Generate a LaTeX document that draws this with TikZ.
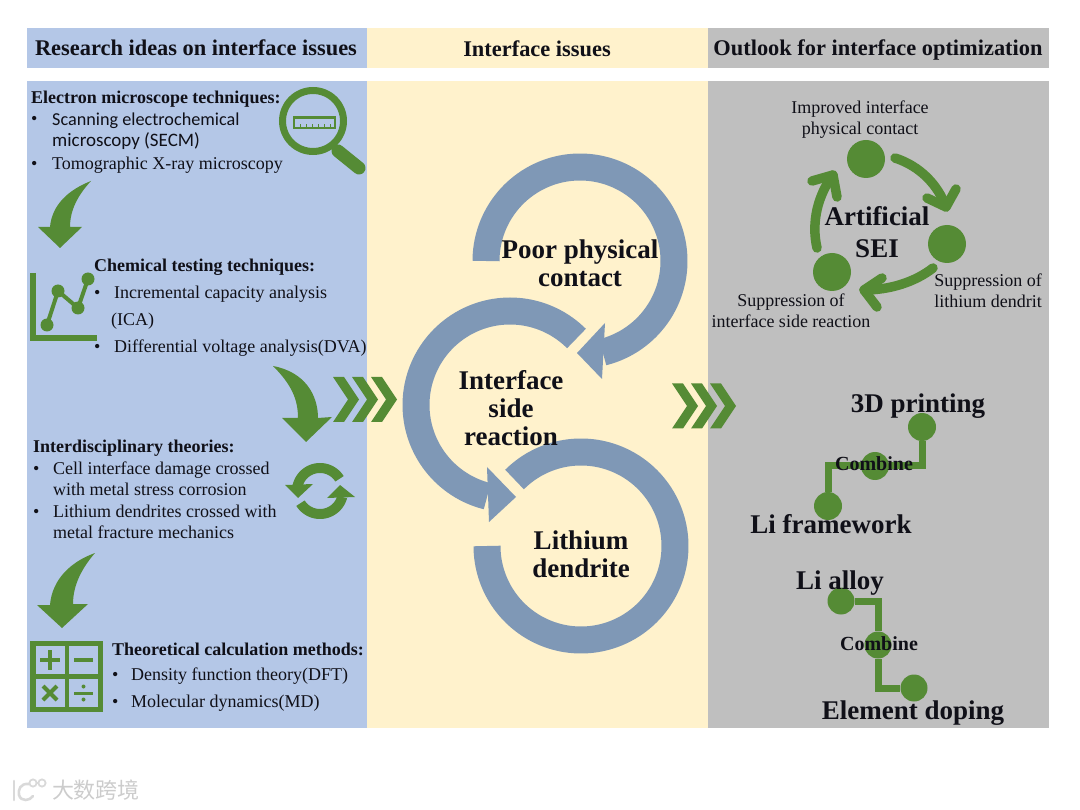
\documentclass[tikz,border=0pt]{standalone}
\usepackage{fontspec}
\setmainfont{Liberation Serif}
\newfontfamily\calfont{Carlito}
\newfontfamily\cjkfont{Noto Sans CJK SC}
\definecolor{panelblue}{HTML}{B4C7E7}
\definecolor{panelyellow}{HTML}{FFF2CC}
\definecolor{panelgray}{HTML}{BFBFBF}
\definecolor{ringblue}{HTML}{7F98B6}
\definecolor{leaf}{HTML}{558B35}
\definecolor{ink}{HTML}{101018}
\newcommand{\fsz}[1]{\fontsize{#1}{#1}\selectfont}
\newcommand{\ringarc}[6]{\draw[#6] plot[domain=#4:#5,samples=90,smooth] ({#1+#3*cos(\x)},{#2-#3*sin(\x)});}
\tikzset{
  head/.style={font=\fsz{22.4}\bfseries,text=ink,inner sep=0pt,anchor=base,yshift=-8pt},
  subhead/.style={font=\fsz{18}\bfseries,text=ink,inner sep=0pt,anchor=base west,yshift=-5.5pt},
  body/.style={font=\fsz{18},text=ink,inner sep=0pt,anchor=base west,yshift=-5.5pt},
  bodysans/.style={font=\calfont\fsz{18.2},text=ink,inner sep=0pt,anchor=base west,yshift=-5.5pt},
  bigt/.style={font=\fsz{27}\bfseries,text=ink,inner sep=0pt,anchor=base,yshift=-8.5pt},
  topic/.style={font=\fsz{27}\bfseries,text=ink,inner sep=0pt,align=center},
  gains/.style={font=\fsz{18},text=ink,inner sep=0pt,align=center},
  combine/.style={font=\fsz{20}\bfseries,text=ink,inner sep=0pt,anchor=base,yshift=-6.5pt},
  ring/.style={ringblue,line width=27pt,line cap=butt},
  dotg/.style={circle,fill=leaf,draw=none,inner sep=0pt,minimum size=#1},
  linkg/.style={leaf,line width=7pt,line join=miter},
  swoop/.style={leaf,line width=9.5pt,line cap=round,line join=round},
  chev/.pic={\fill[leaf] (0,-22.5)--(11,-22.5)--(26,0)--(11,22.5)--(0,22.5)--(15,0)--cycle;},
  wmark/.style={gray!30,line width=2.6pt,line cap=round}
}
\begin{document}
\begin{tikzpicture}[x=1pt,y=-1pt]
\useasboundingbox (0,0) rectangle (1080,810);
% panels
\fill[panelblue] (27,28) rectangle (367,68);
\fill[panelyellow] (367,28) rectangle (708,68);
\fill[panelgray] (708,28) rectangle (1049,68);
\fill[panelblue] (27,81) rectangle (367,728);
\fill[panelyellow] (367,81) rectangle (708,728);
\fill[panelgray] (708,81) rectangle (1049,728);
\node[head] (h1) at (196,48) {Research ideas on interface issues};
\node[head] (h2) at (537,49) {Interface issues};
\node[head] (h3) at (878,48) {Outlook for interface optimization};
% left texts
\node[subhead] (t1) at (31,98) {Electron microscope techniques:};
\node[body] (b1) at (31,119) {•};
\node[bodysans] (t2) at (52,120) {Scanning electrochemical};
\node[bodysans,font=\calfont\fsz{19}] (t3) at (52,141) {microscopy (SECM)};
\node[body] (b2) at (31,164) {•};
\node[body] (t4) at (52,164) {Tomographic X-ray microscopy};
\node[subhead] (t5) at (94,266) {Chemical testing techniques:};
\node[body] (b3) at (94,293) {•};
\node[body] (t6) at (114,293) {Incremental capacity analysis};
\node[body] (t7) at (111,320) {(ICA)};
\node[body] (b4) at (94,347) {•};
\node[body] (t8) at (114,347) {Differential voltage analysis(DVA)};
\node[subhead] (t9) at (33,447) {Interdisciplinary theories:};
\node[body] (b5) at (33,469) {•};
\node[body] (t10) at (53,469) {Cell interface damage crossed};
\node[body] (t11) at (53,490) {with metal stress corrosion};
\node[body] (b6) at (33,512) {•};
\node[body] (t12) at (53,512) {Lithium dendrites crossed with};
\node[body] (t13) at (53,533) {metal fracture mechanics};
\node[subhead] (t14) at (112,650) {Theoretical calculation methods:};
\node[body] (b7) at (112,675) {•};
\node[body] (t15) at (131,675) {Density function theory(DFT)};
\node[body] (b8) at (112,702) {•};
\node[body] (t16) at (131,702) {Molecular dynamics(MD)};
% magnifier
\draw[leaf,line width=7pt] (313,121) circle (30.5);
\draw[leaf,line width=13pt,line cap=round] (338,151) -- (359,168);
\draw[leaf,line width=2.5pt] (294,117.5) rectangle (335,128);
\foreach \t in {300,306,312,318,324,330} \draw[leaf,line width=1pt] (\t,128) -- (\t,124);
% curved arrows
\fill[leaf] (91,181) .. controls (68,190) and (52,205) .. (50,227) -- (38,227) -- (60,248) -- (82,227) -- (70,227) .. controls (70,210) and (78,195) .. cycle;
\fill[leaf] (273,366) .. controls (305,372) and (318,395) .. (318,418) -- (332,417) -- (306,442) -- (282,418) -- (298,418) .. controls (298,400) and (292,385) .. cycle;
\fill[leaf] (95,553) .. controls (70,562) and (52,580) .. (50,605) -- (37,605) -- (62,628) -- (88,604) -- (73,604) .. controls (73,585) and (82,568) .. cycle;
% chart icon
\draw[leaf,line width=6pt,line cap=butt,line join=miter] (33,273) -- (33,338) -- (97,338);
\coordinate (c1) at (47,325); \coordinate (c2) at (58,291); \coordinate (c3) at (78,308); \coordinate (c4) at (88,279);
\draw[leaf,line width=4pt] (c1) -- (c2) -- (c3) -- (c4);
\foreach \c in {c1,c2,c3,c4} \fill[leaf] (\c) circle (6.5);
% refresh icon
\ringarc{320}{491}{23}{32}{168}{leaf,line width=10pt}
\ringarc{320}{491}{23}{212}{345}{leaf,line width=10pt}
\fill[leaf] (285,485) -- (313,484) -- (298,498) -- cycle;
\fill[leaf] (327,498) -- (355,497) -- (340,485) -- cycle;
% calculator icon
\fill[leaf] (30,641) rectangle (103,712);
\foreach \x/\y in {36/646,69/646,36/679,69/679} \fill[panelblue] (\x,\y) rectangle (\x+29,\y+28);
\draw[leaf,line width=4pt] (40,660) -- (60,660) (50,650) -- (50,670);
\draw[leaf,line width=4pt] (74,660) -- (93,660);
\draw[leaf,line width=4pt] (43,686) -- (57,700) (57,686) -- (43,700);
\draw[leaf,line width=3pt] (74,693) -- (93,693);
\fill[leaf] (83.5,686.5) circle (2) (83.5,699.5) circle (2);
% chevrons
\foreach \x in {333,352,371} \pic at (\x,399.5) {chev};
\foreach \x in {672,691,710} \pic at (\x,406) {chev};
% rings
\ringarc{580}{261}{94}{180}{-76}{ring}
\fill[ringblue] (577,353) -- (605,323) -- (602,379) -- cycle;
\ringarc{510}{405}{94}{45}{256}{ring}
\fill[ringblue] (516,497) -- (487,467) -- (489,522) -- cycle;
\ringarc{581}{546}{94}{135}{-180}{ring}
\node[topic] (poor) at (580,263) {Poor physical\\[1pt]contact};
\node[topic] (side) at (511,408) {Interface\\[1pt]side\\[1pt]reaction};
\node[topic] (li) at (581,554) {Lithium\\[1pt]dendrite};
% Artificial SEI
\node[dotg=38pt] (s1) at (866,159) {};
\node[dotg=38pt] (s2) at (947,244) {};
\node[dotg=38pt] (s3) at (832,272) {};
\draw[swoop] (895,158) .. controls (920,166) and (938,185) .. (946,207);
\draw[swoop] (956,189) -- (946,207) -- (927,198);
\draw[swoop] (933,268) .. controls (915,282) and (890,290) .. (864,290);
\draw[swoop] (882,278) -- (864,290) -- (877,307);
\draw[swoop] (817,248) .. controls (811,222) and (818,195) .. (833,175);
\draw[swoop] (812,181) -- (833,175) -- (837,197);
\node[topic] (sei) at (877,232) {Artificial\\[5pt]SEI};
\node[gains] (g1) at (860,120) {Improved interface\\[3pt]physical contact};
\node[gains] (g2) at (988,291) {Suppression of\\[3pt]lithium dendrit};
\node[gains] (g3) at (791,311) {Suppression of\\[3pt]interface side reaction};
% Combine diagrams
\node[dotg=28pt] (p1) at (922,427) {};
\node[dotg=28pt] (p2) at (875,466) {};
\node[dotg=28pt] (p3) at (828,506) {};
\draw[linkg] (p1) |- (p2) -| (p3);
\node[bigt] (l1) at (918,404) {3D printing};
\node[combine] (cb1) at (874,464) {Combine};
\node[bigt] (l2) at (831,525) {Li framework};
\node[dotg=27pt] (q1) at (841,601) {};
\node[dotg=27pt] (q2) at (878,645) {};
\node[dotg=27pt] (q3) at (914,688) {};
\draw[linkg] (q1) -| (q2) |- (q3);
\node[bigt] (l3) at (840,581) {Li alloy};
\node[combine] (cb2) at (879,644) {Combine};
\node[bigt] (l4) at (913,711) {Element doping};
% watermark
\draw[wmark] (14,781) -- (14,800);
\draw[wmark] (29,784) .. controls (20,783) and (18,790) .. (19,795) .. controls (21,802) and (30,801) .. (33,796);
\draw[wmark,line width=1.8pt] (33,783) circle (3.6) (42,783) circle (3.6);
\node[font=\cjkfont\fsz{22},text=gray!40,inner sep=0pt] (wm) at (96,790) {大数跨境};
\end{tikzpicture}
\end{document}
